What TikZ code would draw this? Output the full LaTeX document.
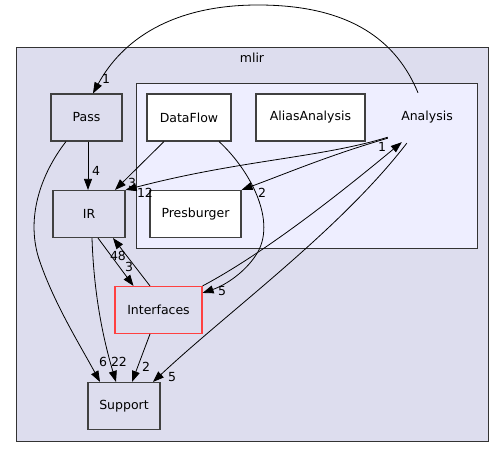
\documentclass[tikz,border=0pt]{standalone}
\usepackage{fontspec}
\setmainfont{DejaVu Sans}
\usetikzlibrary{arrows.meta}
\definecolor{clusterbg}{HTML}{DDDDEE}
\definecolor{innerbg}{HTML}{EEEEFF}
\definecolor{boxline}{HTML}{404040}
\definecolor{redline}{HTML}{FF4040}
\begin{document}
\begin{tikzpicture}[x=1pt,y=-1pt,
  every node/.style={font=\fontsize{12.5}{15}\selectfont, inner sep=0pt},
  dirbox/.style={draw=boxline, line width=1.1pt, minimum height=47pt},
  grey/.style={dirbox, fill=clusterbg},
  white/.style={dirbox, fill=white},
  edge/.style={draw=black, line width=0.8pt, -{Triangle[length=11pt,width=8pt]}},
  lbl/.style={font=\fontsize{12.5}{15}\selectfont}
]
\useasboundingbox (0,0) rectangle (504,457);
% clusters
\draw[fill=clusterbg, draw=black!80, line width=0.8pt] (16,47) rectangle (488,441);
\node (mlirlbl) at (252,58) {mlir};
\draw[fill=innerbg, draw=black!80, line width=0.8pt] (136,83) rectangle (477,248);
% nodes
\node[minimum width=78pt, minimum height=48pt] (analysis) at (427,117) {Analysis};
\node[grey, minimum width=71pt] (pass) at (86.5,117.5) {Pass};
\node[white, minimum width=84pt] (dataflow) at (189,117.5) {DataFlow};
\node[white, minimum width=109pt] (alias) at (310.5,117.5) {AliasAnalysis};
\node[grey, minimum width=72pt] (ir) at (89,214) {IR};
\node[white, minimum width=91pt] (presb) at (195.5,214) {Presburger};
\node[dirbox, draw=redline, fill=clusterbg, minimum width=87pt] (interf) at (158.5,310) {Interfaces};
\node[grey, minimum width=72pt] (support) at (124,406) {Support};
% edges
\draw[edge] ([xshift=-9pt]analysis.north) .. controls (397,42) and (352,5) .. (258,5)
  .. controls (172,5) and (122,40) .. ([xshift=6.5pt]pass.north);
\node[lbl] (l1) at (106,79) {1};
\draw[edge] ([xshift=1.5pt]pass.south) -- ([xshift=-1pt]ir.north);
\node[lbl] (l2) at (96,171) {4};
\draw[edge] ([xshift=-20.5pt]pass.south) .. controls (40,175) and (25,220) .. (40,262)
  .. controls (55,305) and (80,345) .. ([xshift=-24pt]support.north);
\node[lbl] (l3) at (103,362) {6};
\draw[edge] ([xshift=-25pt]dataflow.south) -- ([xshift=26pt]ir.north);
\node[lbl] (l4) at (132,183) {3};
\draw[edge] ([shift={(0,-4)}]analysis.south west) .. controls (320,158) and (240,160) .. (ir.north east);
\node[lbl] (l5) at (145,193) {12};
\draw[edge] ([shift={(0,-3)}]analysis.south west) .. controls (330,155) and (290,172) .. (presb.north east);
\node[lbl] (l6) at (262,193) {2};
\draw[edge] ([xshift=30pt]dataflow.south) .. controls (250,170) and (278,222) .. (256,255)
  .. controls (245,272) and (226,285) .. ([shift={(0,7)}]interf.north east);
\node[lbl] (l7) at (222,291) {5};
\draw[edge] (interf.north east) .. controls (270,250) and (350,185) .. ([shift={(14,1)}]analysis.south west);
\node[lbl] (l8) at (382,147) {1};
\draw[edge] ([shift={(19,2)}]analysis.south west) .. controls (340,230) and (230,310) .. ([xshift=29pt]support.north);
\node[lbl] (l9) at (172,377) {5};
\draw[edge] ([xshift=9pt]ir.south) -- ([xshift=-25pt]interf.north);
\node[lbl] (l10) at (129,267) {3};
\draw[edge] ([xshift=-8.5pt]interf.north) -- ([xshift=24pt]ir.south);
\node[lbl] (l11) at (118,256) {48};
\draw[edge] ([xshift=3pt]ir.south) .. controls (94,300) and (105,345) .. ([xshift=-8pt]support.north);
\node[lbl] (l12) at (119,362) {22};
\draw[edge] ([xshift=-8.5pt]interf.south) -- ([xshift=8pt]support.north);
\node[lbl] (l13) at (146,367) {2};
\end{tikzpicture}
\end{document}
